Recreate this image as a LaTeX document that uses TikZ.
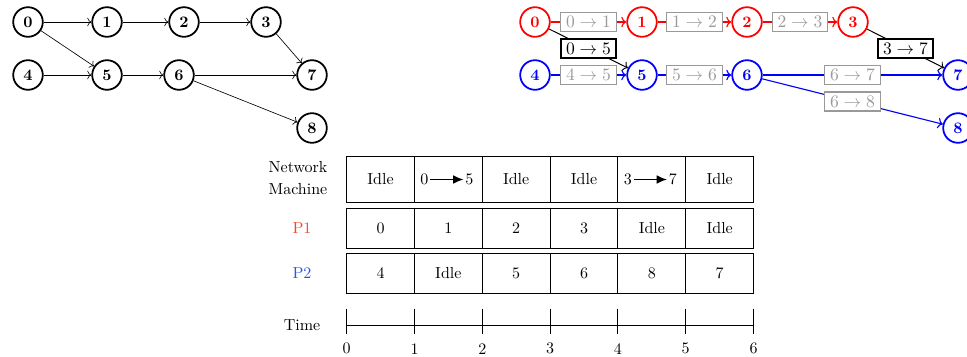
\documentclass[tikz,border=0pt]{standalone}
\usepackage{amsmath}
\usetikzlibrary{positioning,arrows.meta,calc}

\definecolor{pone}{RGB}{250,70,40}
\definecolor{ptwo}{RGB}{40,80,250}

\begin{document}
\begin{tikzpicture}[
  x=0.625pt, y=-0.625pt,
  every node/.style={align=center},
  job/.style={circle, draw, line width=1.1pt, minimum size=18.5pt, inner sep=0pt, font=\bfseries},
  msg/.style={draw=black!40, text=black!40, fill=white, line width=0.7pt, midway, font=\fontsize{11}{13}\selectfont, inner xsep=3.3pt, inner ysep=2.4pt},
  sent/.style={draw=black, text=black, fill=white, line width=1.3pt, midway, font=\fontsize{11}{13}\selectfont, inner xsep=3.3pt, inner ysep=2.4pt},
  cell/.style={draw, minimum width=42.4pt, minimum height=24.75pt, outer sep=0pt, line width=0.6pt},
  tall/.style={cell, minimum height=28.5pt},
  e/.style={->, line width=0.4pt},
  re/.style={->, line width=0.7pt}
]
\useasboundingbox (0,0) rectangle (967,356);

% task graph
\node[job] (a0) at (28,22) {0};
\node[job] (a1) at (107,22) {1};
\node[job] (a2) at (184,22) {2};
\node[job] (a3) at (266,22) {3};
\node[job] (a4) at (28,75) {4};
\node[job] (a5) at (107,75) {5};
\node[job] (a6) at (179,75) {6};
\node[job] (a7) at (312,75) {7};
\node[job] (a8) at (312,128) {8};

\draw[e] (a0) -- (a1);
\draw[e] (a1) -- (a2);
\draw[e] (a2) -- (a3);
\draw[e] (a3) -- (a7);
\draw[e] (a0) -- (a5);
\draw[e] (a4) -- (a5);
\draw[e] (a5) -- (a6);
\draw[e] (a6) -- (a7);
\draw[e] (a6) -- (a8);

% mapped graph
\node[job, red] (b0) at (535,22) {0};
\node[job, red] (b1) at (642,22) {1};
\node[job, red] (b2) at (747,22) {2};
\node[job, red] (b3) at (853,22) {3};
\node[job, blue] (b4) at (535,75) {4};
\node[job, blue] (b5) at (642,75) {5};
\node[job, blue] (b6) at (747,75) {6};
\node[job, blue] (b7) at (958,75) {7};
\node[job, blue] (b8) at (958,128) {8};

\draw[re, red] (b0) -- node[msg]{$0\to1$} (b1);
\draw[re, red] (b1) -- node[msg]{$1\to2$} (b2);
\draw[re, red] (b2) -- node[msg]{$2\to3$} (b3);
\draw[re, blue] (b4) -- node[msg]{$4\to5$} (b5);
\draw[re, blue] (b5) -- node[msg]{$5\to6$} (b6);
\draw[re, blue] (b6) -- node[msg]{$6\to7$} (b7);
\draw[re, blue] (b6) -- node[msg]{$6\to8$} (b8);
\draw[e, line width=0.6pt] (b0) -- node[sent]{$0\to5$} (b5);
\draw[e, line width=0.6pt] (b3) -- node[sent]{$3\to7$} (b7);

% schedule
\node (lnet) at (298,178) {Network\\[2pt]Machine};
\node[text=pone] (lp1) at (302,228) {P1};
\node[text=ptwo] (lp2) at (302,273) {P2};
\node (ltime) at (302,325) {Time};

\node[tall] (net1) at (380.5,179.5) {Idle};
\node[tall, right=0pt of net1] (net2) {};
\node[tall, right=0pt of net2] (net3) {Idle};
\node[tall, right=0pt of net3] (net4) {Idle};
\node[tall, right=0pt of net4] (net5) {};
\node[tall, right=0pt of net5] (net6) {Idle};

\node[inner sep=1pt] (s05) at ($(net2)+(-24,0)$) {0};
\node[inner sep=1pt] (d05) at ($(net2)+(21,0)$) {5};
\draw[-{Latex[length=6.5pt,width=5.5pt]}, line width=0.8pt] (s05) -- (d05);
\node[inner sep=1pt] (s37) at ($(net5)+(-24,0)$) {3};
\node[inner sep=1pt] (d37) at ($(net5)+(21,0)$) {7};
\draw[-{Latex[length=6.5pt,width=5.5pt]}, line width=0.8pt] (s37) -- (d37);

\node[cell, below=3.8pt of net1] (pa1) {0};
\node[cell, right=0pt of pa1] (pa2) {1};
\node[cell, right=0pt of pa2] (pa3) {2};
\node[cell, right=0pt of pa3] (pa4) {3};
\node[cell, right=0pt of pa4] (pa5) {Idle};
\node[cell, right=0pt of pa5] (pa6) {Idle};

\node[cell, below=3.4pt of pa1] (pb1) {4};
\node[cell, right=0pt of pb1] (pb2) {Idle};
\node[cell, right=0pt of pb2] (pb3) {5};
\node[cell, right=0pt of pb3] (pb4) {6};
\node[cell, right=0pt of pb4] (pb5) {8};
\node[cell, right=0pt of pb5] (pb6) {7};

% time axis
\foreach \t in {0,...,6} {
  \coordinate (t\t) at (346.7+67.8*\t,325.7);
  \draw[semithick] ($(t\t)+(0,-17)$) -- ($(t\t)+(0,8)$);
  \node (tl\t) at ($(t\t)+(0,23)$) {\t};
}
\draw[semithick] (t0) -- (t6);
\end{tikzpicture}
\end{document}
